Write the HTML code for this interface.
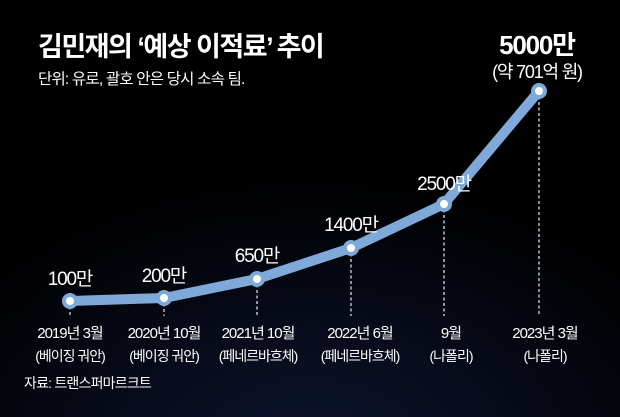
<!DOCTYPE html>
<html><head><meta charset="utf-8"><style>
body{margin:0;background:#000;}
svg{display:block;}
text{font-family:"Liberation Sans","Noto Sans CJK KR",sans-serif;fill:#fff;}
</style></head><body>
<svg width="620" height="417" viewBox="0 0 620 417">
<defs><radialGradient id="g" cx="50%" cy="110%" r="70%"><stop offset="0" stop-color="#0d1430"/><stop offset="1" stop-color="#000"/></radialGradient></defs>
<rect width="620" height="417" fill="url(#g)"/>
<text x="38" y="56" font-size="27" font-weight="bold" letter-spacing="-1.5">김민재의 ‘예상 이적료’ 추이</text>
<text x="38" y="84" font-size="15.5" fill="#ddd" letter-spacing="-0.8">단위: 유로, 괄호 안은 당시 소속 팀.</text>
<g stroke="#ddd" stroke-width="1.3" stroke-dasharray="3,2.5">
<line x1="70" y1="301" x2="70" y2="316"/><line x1="164" y1="298" x2="164" y2="316"/>
<line x1="257" y1="279" x2="257" y2="316"/><line x1="351" y1="248" x2="351" y2="316"/>
<line x1="444" y1="204" x2="444" y2="316"/><line x1="539" y1="91" x2="539" y2="316"/>
</g>
<polyline points="70,301 164,298 257,279 351,248 444,204 539,91" fill="none" stroke="#7ea9d8" stroke-width="10" stroke-linejoin="round" stroke-linecap="round"/>
<g fill="#7ea9d8"><circle cx="70" cy="301" r="8"/><circle cx="164" cy="298" r="8"/><circle cx="257" cy="279" r="8"/><circle cx="351" cy="248" r="8"/><circle cx="444" cy="204" r="8"/><circle cx="539" cy="91" r="8"/></g>
<g fill="#fff"><circle cx="70" cy="301" r="4"/><circle cx="164" cy="298" r="4"/><circle cx="257" cy="279" r="4"/><circle cx="351" cy="248" r="4"/><circle cx="444" cy="204" r="4"/><circle cx="539" cy="91" r="4"/></g>
<g font-size="19" text-anchor="middle" letter-spacing="-1.2">
<text x="70" y="285">100만</text><text x="164" y="282">200만</text><text x="257" y="262">650만</text>
<text x="351" y="231">1400만</text><text x="444" y="190">2500만</text>
<text x="537" y="54" font-size="26" font-weight="bold">5000만</text>
<text x="537" y="78" font-size="18">(약 701억 원)</text>
</g>
<g font-size="15" text-anchor="middle" letter-spacing="-1" fill="#fff">
<text x="70" y="338">2019년 3월</text><text x="164" y="338">2020년 10월</text><text x="258" y="338">2021년 10월</text>
<text x="360" y="338">2022년 6월</text><text x="451" y="338">9월</text><text x="545" y="338">2023년 3월</text>
<text x="70" y="361" font-size="14">(베이징 궈안)</text><text x="164" y="361" font-size="14">(베이징 궈안)</text>
<text x="258" y="361" font-size="14">(페네르바흐체)</text><text x="360" y="361" font-size="14">(페네르바흐체)</text>
<text x="451" y="361" font-size="14">(나폴리)</text><text x="545" y="361" font-size="14">(나폴리)</text>
</g>
<text x="24" y="388" font-size="14" fill="#ccc" letter-spacing="-0.8">자료: 트랜스퍼마르크트</text>
</svg>
</body></html>
